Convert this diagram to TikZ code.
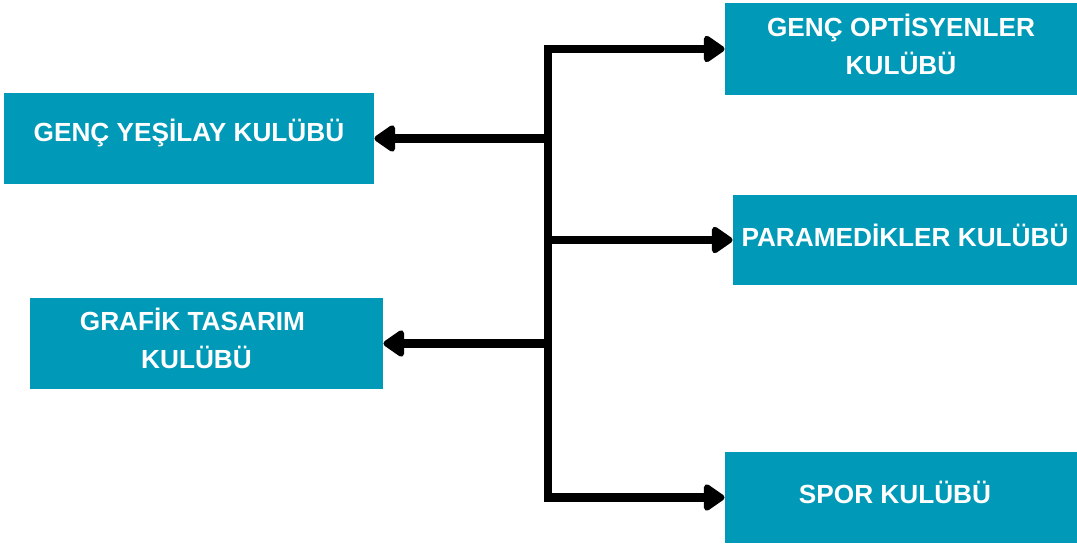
\documentclass[tikz,border=0pt]{standalone}
\usepackage{fontspec}
\setmainfont{Liberation Sans}
\usepackage{xcolor}
\usepackage{tikz}
\usetikzlibrary{positioning}
\usetikzlibrary{arrows.meta}
\definecolor{kulup}{RGB}{0,153,183}
\newcommand{\liftup}[1]{\raisebox{2.5pt}[\height][\depth]{#1}}

\begin{document}
\begin{tikzpicture}
  [
    x=0.5pt, y=-0.5pt,
    club/.style={fill=kulup, text=white, inner sep=0pt, align=center,
      font=\fontsize{13.1}{19}\selectfont\bfseries},
    ld/.style={line width=4.2pt, -{Triangle[length=11.5pt,width=15pt,round]}}
  ]
  \useasboundingbox (0,0) rectangle (1077,544);

  \node (optik) at (901,49)      [club, minimum width=176pt, minimum height=46pt]   {\liftup{GENÇ OPTİSYENLER}\\\liftup{KULÜBÜ}};
  \node (yesil) at (189,138.5)   [club, minimum width=185pt, minimum height=45.5pt] {\liftup{GENÇ YEŞİLAY KULÜBÜ}};
  \node (medik) at (905,240)     [club, minimum width=172pt, minimum height=45pt]   {\liftup{PARAMEDİKLER KULÜBÜ}};
  \node (grafik) at (206.5,343.5) [club, minimum width=176.5pt, minimum height=45.5pt] {\liftup{GRAFİK TASARIM}\hspace*{14pt}\\\liftup{KULÜBÜ}\hspace*{10pt}};
  \node (spor) at (901,497.5)    [club, minimum width=176pt, minimum height=45.5pt] {\liftup{SPOR KULÜBÜ}\hspace*{6pt}};

  \coordinate (t1) at (548,49);
  \coordinate (t5) at (548,497.5);
  \draw [line width=4.2pt, line cap=rect] (t1) -- (t5);   % trunk

  \draw [ld] (t1) -- (optik.west);
  \draw [ld] (yesil.east -| t1) -- (yesil.east);
  \draw [ld] (medik.west -| t1) -- (medik.west);
  \draw [ld] (grafik.east -| t1) -- (grafik.east);
  \draw [ld] (t5) -- (spor.west);
\end{tikzpicture}
\end{document}
